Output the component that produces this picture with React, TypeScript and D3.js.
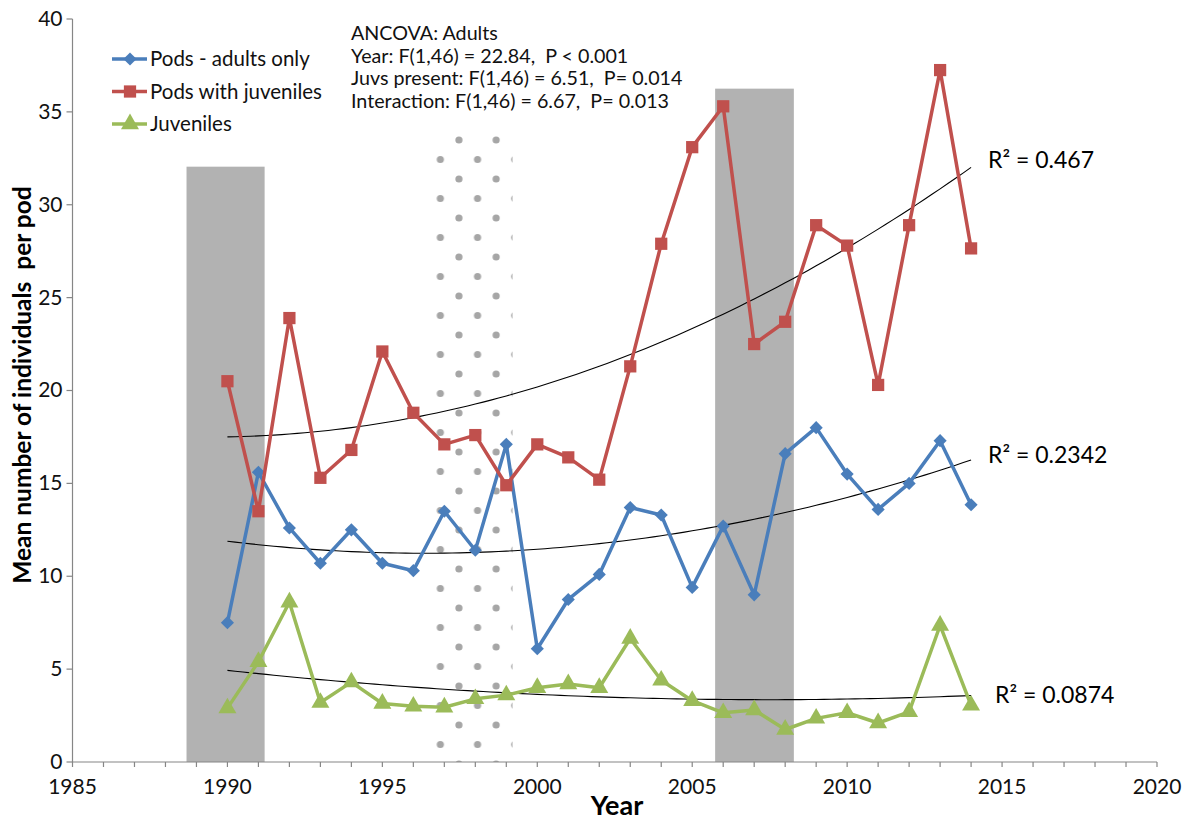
import * as d3 from "d3";

// years for every series
const years = d3.range(1990, 2015);

const adultsOnly = [7.5, 15.6, 12.6, 10.7, 12.5, 10.7, 10.3, 13.5, 11.4, 17.1, 6.1, 8.75, 10.1, 13.7, 13.3, 9.4, 12.7, 9.0, 16.6, 18.0, 15.5, 13.6, 15.0, 17.3, 13.85];
const withJuveniles = [20.5, 13.5, 23.9, 15.3, 16.8, 22.1, 18.8, 17.1, 17.6, 14.9, 17.1, 16.4, 15.2, 21.3, 27.9, 33.1, 35.3, 22.5, 23.7, 28.9, 27.8, 20.3, 28.9, 37.25, 27.65];
const juveniles = [2.9, 5.4, 8.6, 3.2, 4.3, 3.15, 3.0, 2.95, 3.4, 3.6, 4.0, 4.2, 4.0, 6.65, 4.4, 3.3, 2.65, 2.8, 1.75, 2.35, 2.65, 2.1, 2.7, 7.35, 3.05];

const seriesNames = ["Pods - adults only", "Pods with juveniles", "Juveniles"];
const r2Labels = ["R² = 0.2342", "R² = 0.467", "R² = 0.0874"];

// shaded periods [start, end, top]
const greyBands = [
  [1988.68, 1991.2, 32.05],
  [2005.74, 2008.28, 36.25],
];
const dottedBand = [1996.72, 1999.2, 33.8];

const xTicks = d3.range(1985, 2021, 5);
const xMinorTicks = d3.range(1985, 2021, 1);
const yTicks = d3.range(0, 41, 5);

const statsLines = [
  "ANCOVA: Adults",
  "Year: F(1,46) = 22.84,  P < 0.001",
  "Juvs present: F(1,46) = 6.51,  P= 0.014",
  "Interaction: F(1,46) = 6.67,  P= 0.013",
];

// quadratic least squares, like excel's polynomial trendline
function quadFit(xs: number[], ys: number[]) {
  const x0 = xs[0];
  const s = [0, 0, 0, 0, 0];
  const t = [0, 0, 0];
  xs.forEach((xv, i) => {
    const u = xv - x0;
    for (let k = 0; k < 5; k++) s[k] += Math.pow(u, k);
    for (let k = 0; k < 3; k++) t[k] += ys[i] * Math.pow(u, k);
  });
  const m = [
    [s[0], s[1], s[2], t[0]],
    [s[1], s[2], s[3], t[1]],
    [s[2], s[3], s[4], t[2]],
  ];
  for (let i = 0; i < 3; i++) {
    for (let j = i + 1; j < 3; j++) {
      const f = m[j][i] / m[i][i];
      for (let k = i; k < 4; k++) m[j][k] -= f * m[i][k];
    }
  }
  const c = [0, 0, 0];
  for (let i = 2; i >= 0; i--) {
    let v = m[i][3];
    for (let k = i + 1; k < 3; k++) v -= m[i][k] * c[k];
    c[i] = v / m[i][i];
  }
  return (xv: number) => c[0] + c[1] * (xv - x0) + c[2] * (xv - x0) * (xv - x0);
}

export default function App() {
  const width = 1192;
  const height = 821;
  const font = "Lato, 'Open Sans', sans-serif";

  const x = d3.scaleLinear().domain([1985, 2020]).range([72.5, 1157]);
  const y = d3.scaleLinear().domain([0, 40]).range([762, 19]);

  const colors = ["#4a7ebb", "#c0504d", "#9bbb59"];
  const allSeries = [adultsOnly, withJuveniles, juveniles];

  const line = d3
    .line<number>()
    .x((_, i) => x(years[i]))
    .y((d) => y(d));

  const trendYears = d3.range(1990, 2014.01, 0.25);
  const trends = allSeries.map((s) => {
    const f = quadFit(years, s);
    return d3
      .line<number>()
      .x((d) => x(d))
      .y((d) => y(f(d)))(trendYears);
  });

  const diamond = d3.symbol().type(d3.symbolDiamond2).size(110)();
  const square = d3.symbol().type(d3.symbolSquare).size(150)();
  const triangle = d3.symbol().type(d3.symbolTriangle).size(140)();
  const markers = [diamond, square, triangle];

  const [dx0, dx1, dtop] = dottedBand;
  const dotLeft = x(dx0);

  // R² label placement next to each trend end
  const r2Pos = [
    { x: 988, y: 463 },
    { x: 988, y: 168 },
    { x: 995, y: 703 },
  ];

  return (
    <svg
      width={width}
      height={height}
      style={{ position: "absolute", left: 0, top: 0, background: "#fff" }}
      fontFamily={font}
    >
      <defs>
        <pattern
          id="dots"
          patternUnits="userSpaceOnUse"
          x={dotLeft + 4.7}
          y={140}
          width={37.2}
          height={39}
        >
          <circle cx={18.6} cy={0} r={3.6} fill="#a6a6a6" />
          <circle cx={18.6} cy={39} r={3.6} fill="#a6a6a6" />
          <circle cx={0} cy={19.5} r={3.6} fill="#a6a6a6" />
          <circle cx={37.2} cy={19.5} r={3.6} fill="#a6a6a6" />
        </pattern>
      </defs>

      {/* shaded periods */}
      {greyBands.map(([a, b, top], i) => (
        <rect
          key={i}
          x={x(a)}
          y={y(top)}
          width={x(b) - x(a)}
          height={y(0) - y(top)}
          fill="#b2b2b2"
        />
      ))}
      <rect
        x={dotLeft}
        y={y(dtop)}
        width={x(dx1) - dotLeft}
        height={y(0) - y(dtop)}
        fill="url(#dots)"
      />

      {/* axes */}
      <line x1={x(1985)} x2={x(1985)} y1={y(40)} y2={y(0)} stroke="#868686" strokeWidth={1.2} />
      <line x1={x(1985)} x2={x(2020)} y1={y(0)} y2={y(0)} stroke="#868686" strokeWidth={1.2} />
      {yTicks.map((t) => (
        <g key={t} transform={`translate(${x(1985)},${y(t)})`}>
          <line x2={-6} stroke="#868686" strokeWidth={1.2} />
          <text x={-10} dy="0.33em" textAnchor="end" fontSize={21} fill="#111">
            {t}
          </text>
        </g>
      ))}
      {xMinorTicks.map((t) => (
        <line key={t} x1={x(t)} x2={x(t)} y1={y(0)} y2={y(0) + 5} stroke="#868686" strokeWidth={1.2} />
      ))}
      {xTicks.map((t) => (
        <text key={t} x={x(t)} y={794} textAnchor="middle" fontSize={21} fill="#111">
          {t}
        </text>
      ))}

      <text x={617} y={815} textAnchor="middle" fontSize={27} fontWeight="bold" fill="#000">
        Year
      </text>
      <text
        transform={`translate(31,385) rotate(-90)`}
        textAnchor="middle"
        fontSize={24.5}
        fontWeight="bold"
        fill="#000"
        style={{ whiteSpace: "pre" }}
      >
        {"Mean number of individuals  per pod"}
      </text>

      {/* trend lines */}
      {trends.map((d, i) => (
        <path key={i} d={d ?? ""} fill="none" stroke="#000" strokeWidth={1.1} />
      ))}

      {/* series */}
      {allSeries.map((s, si) => (
        <g key={si}>
          <path d={line(s) ?? ""} fill="none" stroke={colors[si]} strokeWidth={3.5} strokeLinejoin="round" />
          {s.map((v, i) => (
            <path
              key={i}
              d={markers[si] ?? ""}
              transform={`translate(${x(years[i])},${y(v)})`}
              fill={colors[si]}
            />
          ))}
        </g>
      ))}

      {/* R² labels */}
      {r2Labels.map((t, i) => (
        <text key={i} x={r2Pos[i].x} y={r2Pos[i].y} fontSize={23} fill="#000">
          {t}
        </text>
      ))}

      {/* legend */}
      {seriesNames.map((name, i) => (
        <g key={name} transform={`translate(112,${59 + i * 32.5})`}>
          <line x1={0} x2={35} stroke={colors[i]} strokeWidth={3.5} />
          <path d={markers[i] ?? ""} transform="translate(18,0)" fill={colors[i]} />
          <text x={38} dy="0.35em" fontSize={20.5} fill="#111">
            {name}
          </text>
        </g>
      ))}

      {/* stats annotation */}
      {statsLines.map((t, i) => (
        <text key={i} x={351} y={40 + i * 22.7} fontSize={19.7} fill="#111" style={{ whiteSpace: "pre" }}>
          {t}
        </text>
      ))}
    </svg>
  );
}
